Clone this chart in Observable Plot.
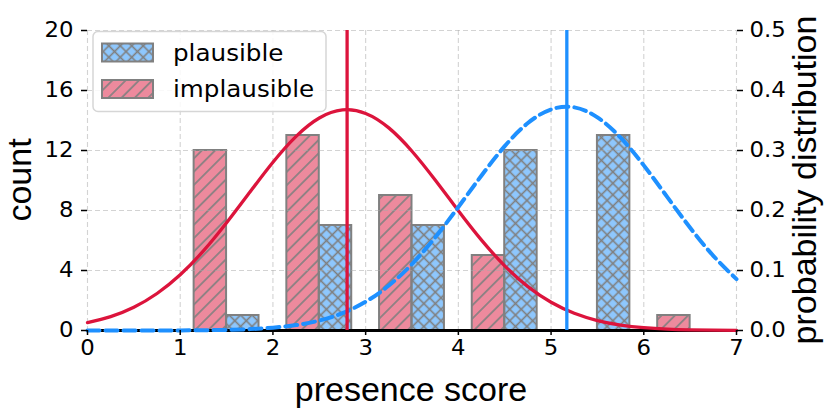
<!DOCTYPE html>
<html>
<head>
<meta charset="utf-8">
<script src="https://cdn.jsdelivr.net/npm/d3@7"></script>
<script src="https://cdn.jsdelivr.net/npm/@observablehq/plot@0.6"></script>
<style>
  body { margin: 0; background: #fff; }
  #wrap { position: relative; width: 830px; height: 415px; }
  #legend { position: absolute; left: 0; top: 0; pointer-events: none; }
</style>
</head>
<body>
<div id="wrap">
  <div id="chart"></div>
  <svg id="legend" width="830" height="415">
    <defs>
      <pattern id="hatchSlash" patternUnits="userSpaceOnUse" width="9.4" height="9.4" patternTransform="rotate(45)">
        <line x1="4.7" y1="-1" x2="4.7" y2="10.4" stroke="#7f7f7f" stroke-width="1.6"/>
      </pattern>
      <pattern id="hatchCross" patternUnits="userSpaceOnUse" width="8.1" height="8.1" patternTransform="rotate(45)">
        <line x1="4.05" y1="-1" x2="4.05" y2="9.1" stroke="#7f7f7f" stroke-width="1.6"/>
        <line x1="-1" y1="4.05" x2="9.1" y2="4.05" stroke="#7f7f7f" stroke-width="1.6"/>
      </pattern>
    </defs>
  </svg>
</div>
<script>
// ---- data ----
const scoreBins = [1, 2, 3, 4, 5, 6];
const plausibleCounts = [1, 7, 7, 12, 13, 0];
const implausibleCounts = [12, 13, 9, 5, 0, 1];
const seriesNames = ["plausible", "implausible"];

const curveX = [0, 0.25, 0.5, 0.75, 1, 1.25, 1.5, 1.75, 2, 2.25, 2.5, 2.75, 3, 3.25, 3.5, 3.75,
  4, 4.25, 4.5, 4.75, 5, 5.25, 5.5, 5.75, 6, 6.25, 6.5, 6.75, 7];
const implausiblePdf = [0.0131, 0.0232, 0.0388, 0.0617, 0.0929, 0.1326, 0.1795, 0.2303, 0.2804,
  0.3236, 0.3542, 0.3676, 0.3618, 0.3377, 0.2988, 0.2508, 0.1996, 0.1506, 0.1078, 0.0731,
  0.0470, 0.0287, 0.0166, 0.0091, 0.0047, 0.0023, 0.0011, 0.0005, 0.0002];
const plausiblePdf = [0.0000, 0.0000, 0.0000, 0.0001, 0.0002, 0.0005, 0.0010, 0.0023, 0.0047,
  0.0090, 0.0166, 0.0290, 0.0479, 0.0749, 0.1108, 0.1552, 0.2058, 0.2584, 0.3072, 0.3458,
  0.3685, 0.3719, 0.3552, 0.3213, 0.2752, 0.2231, 0.1713, 0.1245, 0.0856];
const implausibleMean = 2.80;
const plausibleMean = 5.17;

const xTicks = [0, 1, 2, 3, 4, 5, 6, 7];
const countTicks = [0, 4, 8, 12, 16, 20];
const probTicks = [0.0, 0.1, 0.2, 0.3, 0.4, 0.5];

// ---- styles ----
const colors = {plausible: "#8ec7fd", implausible: "#ed8a9d"};
const lineColors = {plausible: "#1e90ff", implausible: "#dc143c"};
const hatches = {plausible: "url(#hatchCross)", implausible: "url(#hatchSlash)"};

// ---- derived tables ----
const countMax = countTicks[countTicks.length - 1];
const probMax = probTicks[probTicks.length - 1];
const k = countMax / probMax;

const bars = [];
scoreBins.forEach((b, i) => {
  bars.push({series: "implausible", x1: b + 0.15, x2: b + 0.5, count: implausibleCounts[i]});
  bars.push({series: "plausible", x1: b + 0.5, x2: b + 0.85, count: plausibleCounts[i]});
});
const shownBars = bars.filter(d => d.count > 0);
const redCurve = curveX.map((x, i) => ({x, y: implausiblePdf[i] * k}));
const blueCurve = curveX.map((x, i) => ({x, y: plausiblePdf[i] * k}));

const gridStyle = {stroke: "#a8a8a8", strokeOpacity: 0.5, strokeDasharray: "5,3", strokeWidth: 1.1};

const chart = Plot.plot({
  width: 830, height: 415,
  marginLeft: 87, marginRight: 94, marginTop: 30, marginBottom: 85,
  style: {fontFamily: "DejaVu Sans", fontSize: "21.5px", color: "#000", background: "#fff"},
  x: {domain: [0, 7]},
  y: {domain: [0, countMax]},
  marks: [
    Plot.rect(shownBars, {x1: "x1", x2: "x2", y1: 0, y2: "count", fill: d => colors[d.series]}),
    Plot.rect(shownBars, {x1: "x1", x2: "x2", y1: 0, y2: "count", fill: d => hatches[d.series]}),
    Plot.rect(shownBars, {x1: "x1", x2: "x2", y1: 0, y2: "count", fill: "none", stroke: "#808080", strokeWidth: 2}),
    Plot.gridX(xTicks, gridStyle),
    Plot.gridY(countTicks, gridStyle),
    Plot.ruleY([0], {stroke: "#000", strokeWidth: 3.2}),
    Plot.line(redCurve, {x: "x", y: "y", stroke: lineColors.implausible, strokeWidth: 3.3, curve: "natural"}),
    Plot.line(blueCurve, {x: "x", y: "y", stroke: lineColors.plausible, strokeWidth: 4, strokeDasharray: "12,6", curve: "natural"}),
    Plot.ruleX([implausibleMean], {stroke: lineColors.implausible, strokeWidth: 3.3}),
    Plot.ruleX([plausibleMean], {stroke: lineColors.plausible, strokeWidth: 3.3}),
    Plot.axisX(xTicks, {tickSize: 5, tickPadding: 4, strokeWidth: 1.5, label: null}),
    Plot.axisY(countTicks, {anchor: "left", tickSize: 6, tickPadding: 8, strokeWidth: 1.5, label: null}),
    Plot.axisY(probTicks.map(p => p * k), {anchor: "right", tickSize: 6, tickPadding: 7, strokeWidth: 1.5, label: null,
      tickFormat: d => (d / k).toFixed(1)})
  ]
});
document.getElementById("chart").appendChild(chart);

// widen DejaVu labels slightly to match the reference glyph proportions
function widen(sel, factor) {
  sel.each(function () {
    const len = this.getComputedTextLength();
    if (len > 0) {
      this.setAttribute("textLength", (len * factor).toFixed(1));
      this.setAttribute("lengthAdjust", "spacingAndGlyphs");
    }
  });
}
widen(d3.select(chart).selectAll("g[aria-label$='tick label'] text"), 1.06);

// axis titles
const svg = d3.select(chart);
const labelFont = "Liberation Sans, Arial, sans-serif";
svg.append("text").text("presence score")
  .attr("x", 411).attr("y", 401)
  .attr("text-anchor", "middle").attr("font-family", labelFont).attr("font-size", 34).attr("fill", "#000");
svg.append("text").text("count")
  .attr("transform", "translate(31,180) rotate(-90)")
  .attr("text-anchor", "middle").attr("font-family", labelFont).attr("font-size", 34).attr("fill", "#000");
svg.append("text").text("probability distribution")
  .attr("transform", "translate(816,180) rotate(-90)")
  .attr("text-anchor", "middle").attr("font-family", labelFont).attr("font-size", 34).attr("fill", "#000");

// legend
const lg = d3.select("#legend");
lg.append("rect").attr("x", 93).attr("y", 31.5).attr("width", 233).attr("height", 80).attr("rx", 5)
  .attr("fill", "#fff").attr("fill-opacity", 0.85).attr("stroke", "#d6d6d6").attr("stroke-width", 1.5);
seriesNames.forEach((name, i) => {
  const y = 43.5 + i * 36.5;
  lg.append("rect").attr("x", 102).attr("y", y).attr("width", 51).attr("height", 18).attr("fill", colors[name]);
  lg.append("rect").attr("x", 102).attr("y", y).attr("width", 51).attr("height", 18).attr("fill", hatches[name]);
  lg.append("rect").attr("x", 102).attr("y", y).attr("width", 51).attr("height", 18)
    .attr("fill", "none").attr("stroke", "#808080").attr("stroke-width", 2);
  lg.append("text").text(name).attr("x", 173).attr("y", y + 17)
    .attr("font-family", "DejaVu Sans").attr("font-size", 23).attr("fill", "#000");
});
widen(lg.selectAll("text"), 1.07);
</script>
</body>
</html>
